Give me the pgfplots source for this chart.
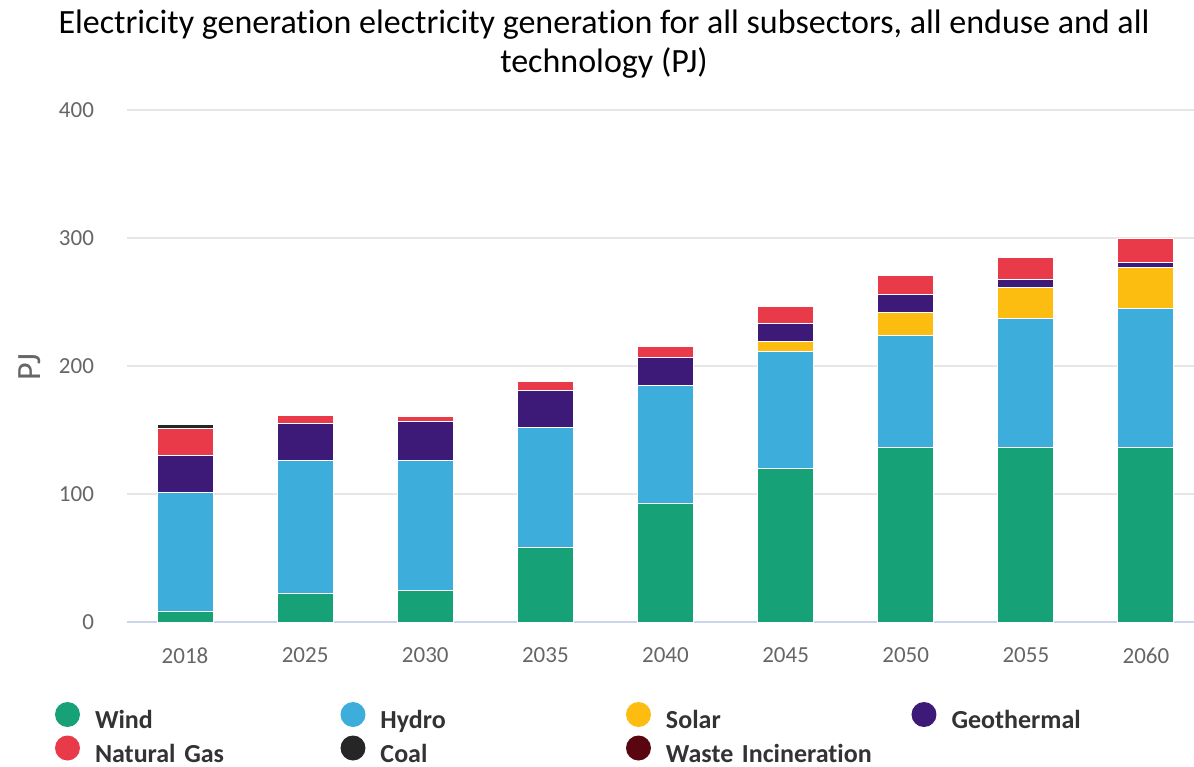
\documentclass[border=0pt]{standalone}
\usepackage{pgfplots}
\usepackage{pgfplotstable}
\pgfplotsset{compat=1.18}
\usepackage{fontspec}
\setmainfont{Carlito}[Ligatures=NoCommon]
\definecolor{windc}{HTML}{17A176}
\definecolor{hydroc}{HTML}{3DAEDC}
\definecolor{solarc}{HTML}{FDBD10}
\definecolor{geoc}{HTML}{3D1A78}
\definecolor{gasc}{HTML}{E93A4A}
\definecolor{coalc}{HTML}{262626}
\definecolor{wastec}{HTML}{5A0610}
\definecolor{gridc}{HTML}{E6E6E6}
\definecolor{axisc}{HTML}{CCD6EB}
\definecolor{tickc}{HTML}{666666}
\definecolor{textc}{HTML}{333333}

\pgfplotstableread{
x wind hydro solar geo gas coal
0 8    93   0    29   21.5 3
1 22.5 104  0    28.5 6.5  0
2 25   101.5 0   30.5 3.5  0
3 58   94   0    29   6.5  0
4 92.5 92   0    22.5 8.5  0
5 120  91   8    14.5 13   0
6 136  88   17.5 14.5 14.5 0
7 136  101  24   6.5  17.5 0
8 136  109  32   3.5  19   0
}\datatable

\begin{document}
\begin{tikzpicture}
\useasboundingbox (0,0) rectangle (597pt,383pt);
\begin{axis}[
  at={(63.5pt,72pt)}, anchor=south west,
  scale only axis, width=533.5pt, height=256pt,
  ybar stacked, bar width=0.466,
  xmin=-0.483, xmax=8.4, ymin=0, ymax=400,
  xtick={0,...,8},
  xticklabels={2018,2025,2030,2035,2040,2045,2050,2055,2060},
  ytick={0,100,200,300,400},
  major tick length=0pt,
  axis lines*=left,
  y axis line style={draw=none},
  x axis line style={draw=axisc, line width=0.8pt, -},
  ymajorgrids, grid style={gridc, line width=0.6pt},
  /pgf/number format/assume math mode=true,
  tick label style={font=\fontsize{11.5}{13}\selectfont, text=tickc},
  yticklabel style={xshift=-13pt},
  xticklabel style={yshift=-9.5pt},
  legend columns=4,
  legend style={at={(axis description cs:0,0)}, anchor=north west,
    xshift=-36pt, yshift=-40pt, draw=none, fill=none,
    inner sep=0pt, outer sep=0pt, row sep=1pt,
    font=\bfseries\fontsize{13}{14}\selectfont, text=textc,
    nodes={inner sep=0pt, text height=8.5pt, text depth=2.5pt},
    /tikz/every odd column/.append style={column sep=7.5pt},
    /tikz/every even column/.append style={column sep=0pt},
  },
  legend cell align=left,
  legend image code/.code={\fill[#1, draw=none] (6.25pt,4pt) circle (6.25pt);},
  every axis plot/.append style={draw=white, line width=0.5pt},
]
\addplot[fill=windc] table[x=x, y=wind] {\datatable};
\addlegendentry[text width=122.75pt]{Wind}
\addplot[fill=hydroc] table[x=x, y=hydro] {\datatable};
\addlegendentry[text width=122.75pt]{Hydro}
\addplot[fill=solarc] table[x=x, y=solar] {\datatable};
\addlegendentry[text width=122.75pt]{Solar}
\addplot[fill=geoc] table[x=x, y=geo] {\datatable};
\addlegendentry[text width=122.75pt]{Geothermal}
\addplot[fill=gasc] table[x=x, y=gas] {\datatable};
\addlegendentry[text width=122.75pt]{Natural Gas}
\addplot[fill=coalc] table[x=x, y=coal] {\datatable};
\addlegendentry[text width=122.75pt]{Coal}
\addlegendimage{fill=wastec}
\addlegendentry[text width=122.75pt]{Waste Incineration}
\end{axis}
\node[anchor=base, text=black, font=\fontsize{17}{20}\selectfont] at (302pt,366pt) {Electricity generation electricity generation for all subsectors, all enduse and all};
\node[anchor=base, text=black, font=\fontsize{17}{20}\selectfont] at (302pt,346.5pt) {technology (PJ)};
\node[rotate=90, text=tickc, font=\fontsize{17}{18}\selectfont] at (15pt,199.5pt) {PJ};
\end{tikzpicture}
\end{document}
